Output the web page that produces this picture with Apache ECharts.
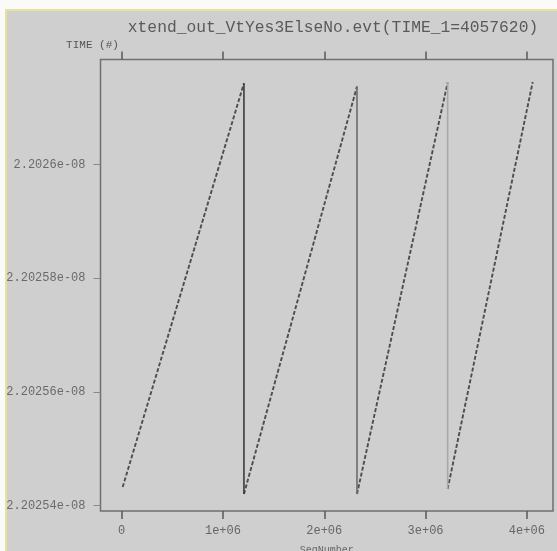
<!DOCTYPE html>
<html>
<head>
<meta charset="utf-8">
<script src="https://cdn.jsdelivr.net/npm/echarts@6/dist/echarts.min.js"></script>
<style>
  html, body { margin: 0; padding: 0; background: #fafafa; }
  #bg {
    position: absolute; left: 5px; top: 9px; width: 550px; height: 540px;
    background: #cfcfcf;
    border-top: 2px solid #e3e39c; border-left: 2px solid #e3e39c;
  }
  #chart { position: absolute; left: 0; top: 0; width: 557px; height: 551px; }
</style>
</head>
<body>
<div id="bg"></div>
<div id="chart"></div>
<script>
// sawtooth segments
const seqStart = [10000, 1207000, 2323000, 3218000]
const seqEnd = [1207000, 2323000, 3218000, 4057620]
const timeStart = [2.20254324e-8, 2.2025420e-8, 2.2025420e-8, 2.2025429e-8]
const timeEnd = [2.2026143e-8, 2.2026137e-8, 2.2026144e-8, 2.2026145e-8]

const xTickValues = [0, 1000000, 2000000, 3000000, 4000000]
const xTickLabels = ['0', '1e+06', '2e+06', '3e+06', '4e+06']
const yTickValues = [2.20254e-8, 2.20256e-8, 2.20258e-8, 2.2026e-8]
const yTickLabels = ['2.20254e-08', '2.20256e-08', '2.20258e-08', '2.2026e-08']

const dropColors = ['#3c3c3c', '#6c6c6c', '#a8a8a8']

const mono = 'Liberation Mono'

function nearestLabel(values, labels, v) {
  let best = 0
  for (let i = 1; i < values.length; i++) {
    if (Math.abs(values[i] - v) < Math.abs(values[best] - v)) best = i
  }
  return labels[best]
}

let series = []
for (let i = 0; i < seqStart.length; i++) {
  series.push({
    type: 'line',
    showSymbol: false,
    lineStyle: { color: '#4e4e4e', width: 1.9, type: [4, 2] },
    data: [[seqStart[i], timeStart[i]], [seqEnd[i], timeEnd[i]]]
  })
}
for (let i = 0; i < dropColors.length; i++) {
  series.push({
    type: 'line',
    showSymbol: false,
    lineStyle: { color: dropColors[i], width: 1.6 },
    data: [[seqEnd[i], timeEnd[i]], [seqStart[i + 1], timeStart[i + 1]]]
  })
}

let xBase = {
  type: 'value',
  min: -209000,
  max: 4258000,
  splitLine: { show: false },
  axisLine: { show: false, onZero: false }
}

let option = {
  animation: false,
  title: {
    text: 'xtend_out_VtYes3ElseNo.evt(TIME_1=4057620)',
    left: 328,
    top: 15,
    textAlign: 'center',
    textStyle: { fontFamily: mono, fontSize: 16.3, fontWeight: 'normal', color: '#5a5a5a' }
  },
  grid: {
    left: 100.5, right: 4, top: 59.5, bottom: 40,
    outerBoundsMode: 'none',
    containLabel: false,
    show: true, borderColor: '#6f6f6f', borderWidth: 1.5, backgroundColor: 'transparent'
  },
  xAxis: [
    Object.assign({}, xBase, {
      position: 'bottom',
      name: 'SeqNumber',
      nameLocation: 'middle',
      nameGap: 34,
      nameTextStyle: { fontFamily: mono, fontSize: 10, color: '#666' },
      axisTick: { show: true, inside: false, length: 8, lineStyle: { color: '#5a5a5a', width: 1.5 }, customValues: xTickValues },
      axisLabel: {
        margin: 14, fontFamily: mono, fontSize: 12, color: '#666',
        customValues: xTickValues,
        formatter: v => nearestLabel(xTickValues, xTickLabels, v)
      }
    }),
    Object.assign({}, xBase, {
      position: 'top',
      axisTick: { show: true, inside: false, length: 8, lineStyle: { color: '#5a5a5a', width: 1.5 }, customValues: xTickValues },
      axisLabel: { show: false }
    })
  ],
  yAxis: {
    type: 'value',
    min: 2.20253902e-8,
    max: 2.20261847e-8,
    name: 'TIME (#)',
    nameLocation: 'end',
    nameGap: 9,
    nameTextStyle: { fontFamily: mono, fontSize: 11, color: '#555', align: 'center', padding: [0, 16, 0, 0] },
    splitLine: { show: false },
    axisLine: { show: false, onZero: false },
    axisTick: { show: true, inside: false, length: 7, lineStyle: { color: '#8a8a8a', width: 1 }, customValues: yTickValues },
    axisLabel: {
      margin: 15, fontFamily: mono, fontSize: 12, color: '#6a6a6a',
      customValues: yTickValues,
      formatter: v => nearestLabel(yTickValues, yTickLabels, v)
    }
  },
  series: series
}

let chart = echarts.init(document.getElementById('chart'))
chart.setOption(option)
</script>
</body>
</html>
